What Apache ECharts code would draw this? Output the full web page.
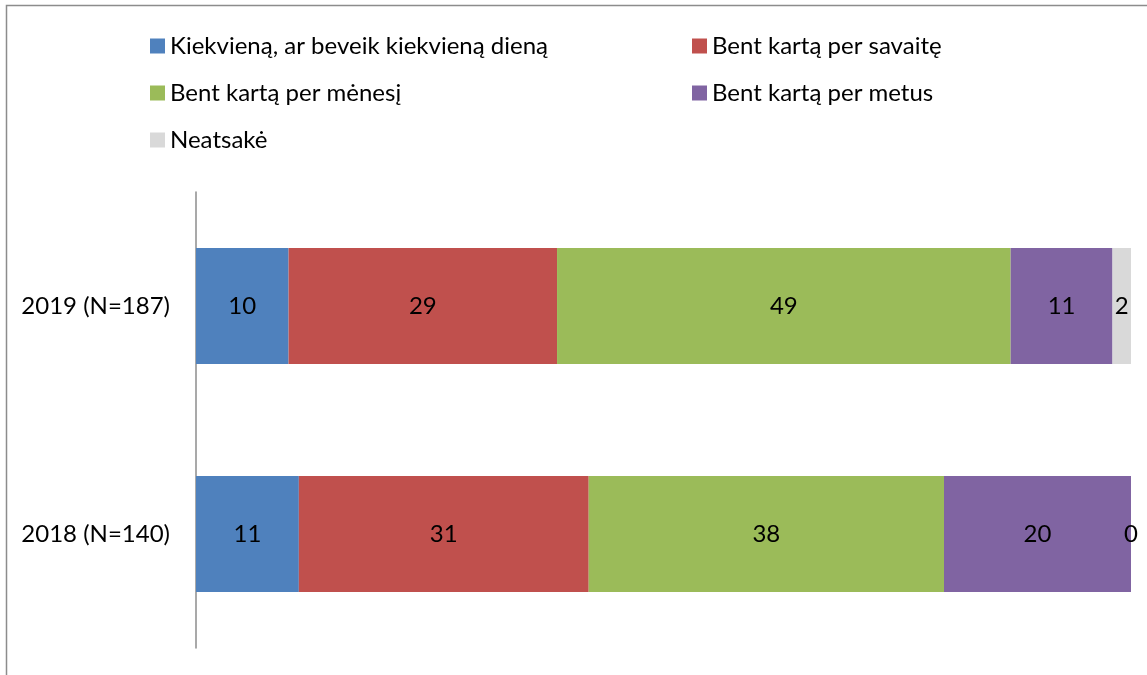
<!DOCTYPE html>
<html>
<head>
<meta charset="utf-8">
<script src="https://cdn.jsdelivr.net/npm/echarts@6/dist/echarts.min.js"></script>
<style>
  html, body { margin: 0; padding: 0; background: #fff; }
  #main { width: 1147px; height: 675px; }
</style>
</head>
<body>
<div id="main"></div>
<script>
// categories (bottom to top) and answer groups
var categories = ['2018 (N=140)', '2019 (N=187)'];
var seriesNames = [
    'Kiekvieną, ar beveik kiekvieną dieną',
    'Bent kartą per savaitę',
    'Bent kartą per mėnesį',
    'Bent kartą per metus',
    'Neatsakė'
];
var colors = ['#4F81BD', '#C0504D', '#9BBB59', '#8064A2', '#D9D9D9'];
// values per series, in the order of categories
var daily = [11, 10];
var weekly = [31, 29];
var monthly = [38, 49];
var yearly = [20, 11];
var noAnswer = [0, 2];

(function () {
    var myChart = echarts.init(document.getElementById('main'));
    var values = [daily, weekly, monthly, yearly, noAnswer];
    var font = 'Lato';

    // every row is drawn as 100%
    var totals = categories.map(function (c, i) {
        return values.reduce(function (s, arr) { return s + arr[i]; }, 0);
    });

    var series = values.map(function (arr, k) {
        return {
            name: seriesNames[k],
            type: 'bar',
            stack: 'all',
            barWidth: 116,
            itemStyle: { color: colors[k] },
            label: {
                show: true,
                position: 'inside',
                color: '#000',
                fontFamily: font,
                fontSize: 24,
                formatter: function (p) { return arr[p.dataIndex]; }
            },
            data: arr.map(function (v, i) { return v / totals[i] * 100; })
        };
    });

    // legend laid out in two columns, like the original
    var legendPos = [[145, 41], [687, 41], [145, 88], [687, 88], [145, 135]];
    var legends = seriesNames.map(function (name, k) {
        return {
            left: legendPos[k][0],
            top: legendPos[k][1] - 12,
            itemWidth: 15,
            itemHeight: 15,
            itemGap: 0,
            icon: 'rect',
            textStyle: {
                fontFamily: font,
                fontSize: 24,
                color: '#000',
                lineHeight: 24
            },
            data: [name]
        };
    });

    var option = {
        backgroundColor: '#fff',
        animation: false,
        color: colors,
        graphic: [{
            type: 'rect',
            shape: { x: 6.5, y: 5.5, width: 1200, height: 700 },
            style: { fill: 'none', stroke: '#8c8c8c', lineWidth: 1.5 },
            silent: true
        }],
        legend: legends,
        grid: {
            left: 196,
            right: 16,
            top: 192,
            bottom: 27,
            containLabel: false
        },
        xAxis: {
            type: 'value',
            min: 0,
            max: 100,
            show: false
        },
        yAxis: {
            type: 'category',
            data: categories,
            axisLine: { show: true, lineStyle: { color: '#8c8c8c', width: 1.5 } },
            axisTick: { show: false },
            axisLabel: {
                color: '#000',
                fontFamily: font,
                fontSize: 24,
                margin: 26
            }
        },
        series: series
    };
    myChart.setOption(option);
    window.addEventListener('resize', function () {
        myChart.resize();
    });
})();
</script>
</body>
</html>
